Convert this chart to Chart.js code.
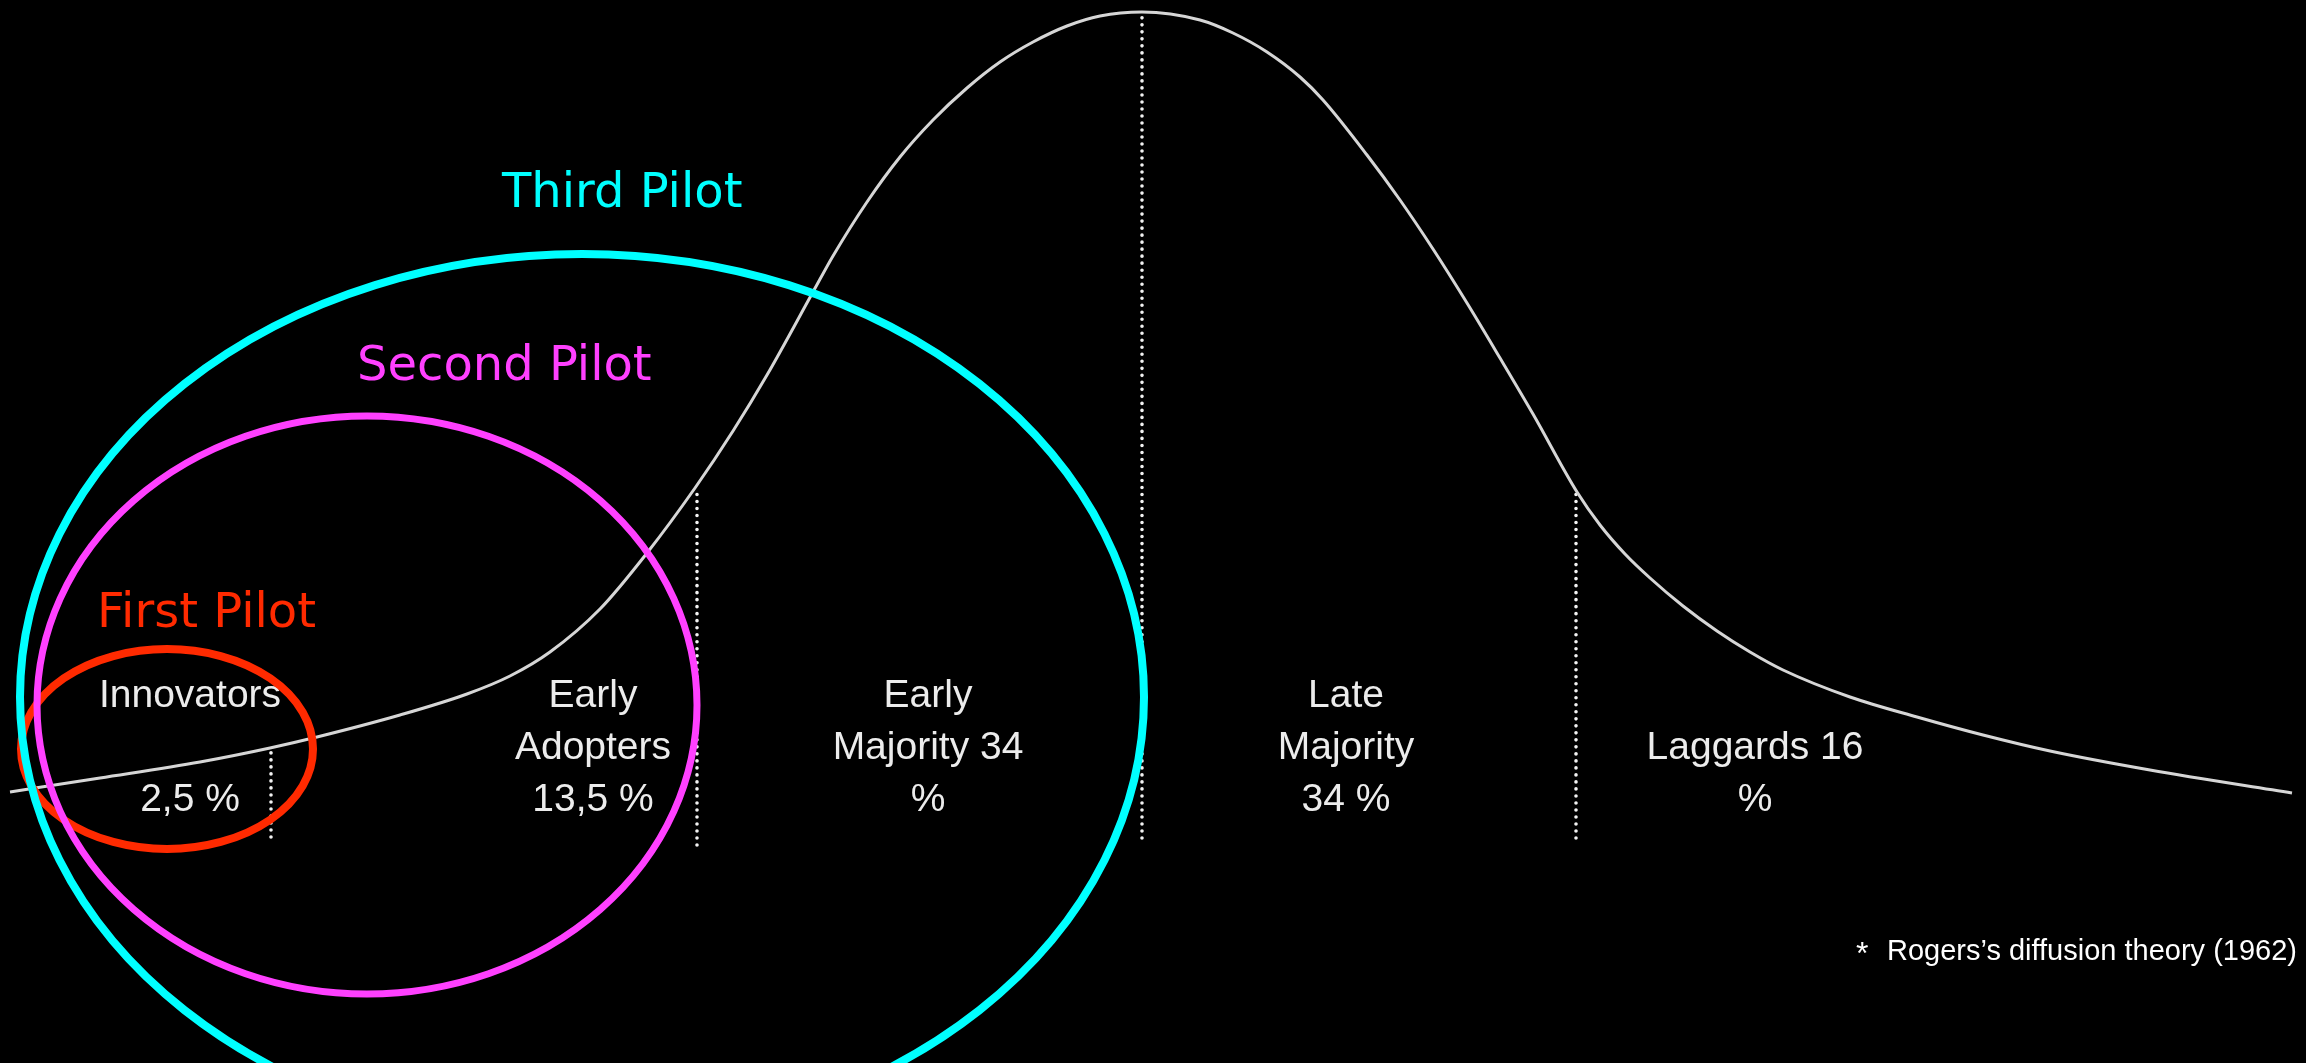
<!DOCTYPE html>
<html>
<head>
<meta charset="utf-8">
<title>Rogers's diffusion of innovations</title>
<script src="https://cdn.jsdelivr.net/npm/chart.js@4.4.1/dist/chart.umd.min.js"></script>
<style>
  html, body { margin: 0; padding: 0; background: #000; overflow: hidden; }
  #wrap { width: 2306px; height: 1063px; }
</style>
</head>
<body>
<div id="wrap"><canvas id="c" width="2306" height="1063"></canvas></div>
<script>
// ---- Data (x along adoption time, y = curve height) ----
const curveX = [10,100,200,270,317,400,467,510,550,600,647,695,733,767,813,833,867,900,933,967,1000,1033,1067,1100,1142,1200,1233,1267,1300,1323,1367,1400,1433,1467,1500,1533,1577,1600,1625,1650,1683,1717,1750,1783,1850,1917,1983,2050,2150,2292];
const curveY = [271,285,301,315,326,348,369,387,411,454,510,575,632,688,771,807,861,906,943,975,1001,1021,1037,1047,1051,1043,1030,1011,986,963,908,863,814,760,705,649,571,538,509,485,457,432,411,393,366,346,328,312,293,270];

// category boundaries (dotted lines): x, top (on curve) and bottom
const dividerX      = [271, 697, 1142, 1576];
const dividerTop    = [316, 575, 1049, 571];
const dividerBottom = [226, 218, 225, 225];

// adopter categories
const categoryNames = [
  ["Innovators", "", "2,5 %"],
  ["Early", "Adopters", "13,5 %"],
  ["Early", "Majority 34", "%"],
  ["Late", "Majority", "34 %"],
  ["", "Laggards 16", "%"]
];
const categoryX = [190, 593, 928, 1346, 1755];

// pilot groups (ellipses)
const pilotNames = ["First Pilot", "Second Pilot", "Third Pilot"];
const pilotCx = [167, 367, 582];
const pilotCy = [314, 358, 366];
const pilotRx = [146, 330, 562];
const pilotRy = [100, 289, 443];

const footnote = "Rogers\u2019s diffusion theory (1962)";

// ---- Styles / layout (kept apart from the data) ----
const pilotColors = ["#ff2a00", "#ff40ff", "#00ffff"];
const pilotLabelPos = [[97, 436], [357, 683], [502, 856]]; // left x, baseline (data units)
const catBaselines = [356, 304, 252]; // data-unit baselines for the three text rows
const W = 2306, H = 1063;

const curveData = curveX.map((x, i) => ({ x: x, y: curveY[i] }));
const dividerSets = dividerX.map((x, i) => ({
  data: [{ x: x, y: dividerBottom[i] }, { x: x, y: dividerTop[i] }],
  borderColor: "#f2f2f2",
  borderWidth: 3.6,
  borderDash: [0.01, 7],
  borderCapStyle: "round",
  tension: 0,
  pointRadius: 0,
  fill: false
}));

const overlay = {
  id: "overlay",
  afterDatasetsDraw(chart) {
    const ctx = chart.ctx;
    const xs = chart.scales.x, ys = chart.scales.y;
    ctx.save();
    // category labels
    ctx.fillStyle = "#ececec";
    ctx.font = "39px 'Liberation Sans', Arial, sans-serif";
    ctx.textAlign = "center";
    ctx.textBaseline = "alphabetic";
    categoryNames.forEach((lines, i) => {
      lines.forEach((t, j) => {
        if (t) ctx.fillText(t, xs.getPixelForValue(categoryX[i]), ys.getPixelForValue(catBaselines[j]));
      });
    });
    // ellipses
    for (let i = 0; i < pilotNames.length; i++) {
      const cx = xs.getPixelForValue(pilotCx[i]);
      const cy = ys.getPixelForValue(pilotCy[i]);
      const rx = Math.abs(xs.getPixelForValue(pilotCx[i] + pilotRx[i]) - cx);
      const ry = Math.abs(ys.getPixelForValue(pilotCy[i] + pilotRy[i]) - cy);
      ctx.beginPath();
      ctx.ellipse(cx, cy, rx, ry, 0, 0, Math.PI * 2);
      ctx.strokeStyle = pilotColors[i];
      ctx.lineWidth = i === 1 ? 7 : 8;
      ctx.stroke();
    }
    // pilot labels
    ctx.textAlign = "left";
    ctx.font = "48px 'DejaVu Sans', sans-serif";
    pilotNames.forEach((t, i) => {
      ctx.fillStyle = pilotColors[i];
      ctx.fillText(t, xs.getPixelForValue(pilotLabelPos[i][0]), ys.getPixelForValue(pilotLabelPos[i][1]));
    });
    // footnote
    ctx.fillStyle = "#ffffff";
    ctx.font = "32px 'Liberation Sans', Arial, sans-serif";
    ctx.fillText("*", xs.getPixelForValue(1856), ys.getPixelForValue(103) + 4);
    ctx.font = "29px 'Liberation Sans', Arial, sans-serif";
    ctx.fillText(footnote, xs.getPixelForValue(1887), ys.getPixelForValue(103));
    ctx.restore();
  }
};

new Chart(document.getElementById("c"), {
  type: "line",
  data: {
    datasets: [{
      data: curveData,
      borderColor: "#d6d6d6",
      borderWidth: 3,
      cubicInterpolationMode: "monotone",
      tension: 0.4,
      pointRadius: 0,
      fill: false
    }].concat(dividerSets)
  },
  options: {
    responsive: false,
    animation: false,
    devicePixelRatio: 1,
    layout: { padding: 0 },
    events: [],
    plugins: { legend: { display: false }, tooltip: { enabled: false } },
    scales: {
      x: { type: "linear", min: 0, max: W, display: false },
      y: { type: "linear", min: 0, max: H, display: false }
    }
  },
  plugins: [overlay]
});
</script>
</body>
</html>
